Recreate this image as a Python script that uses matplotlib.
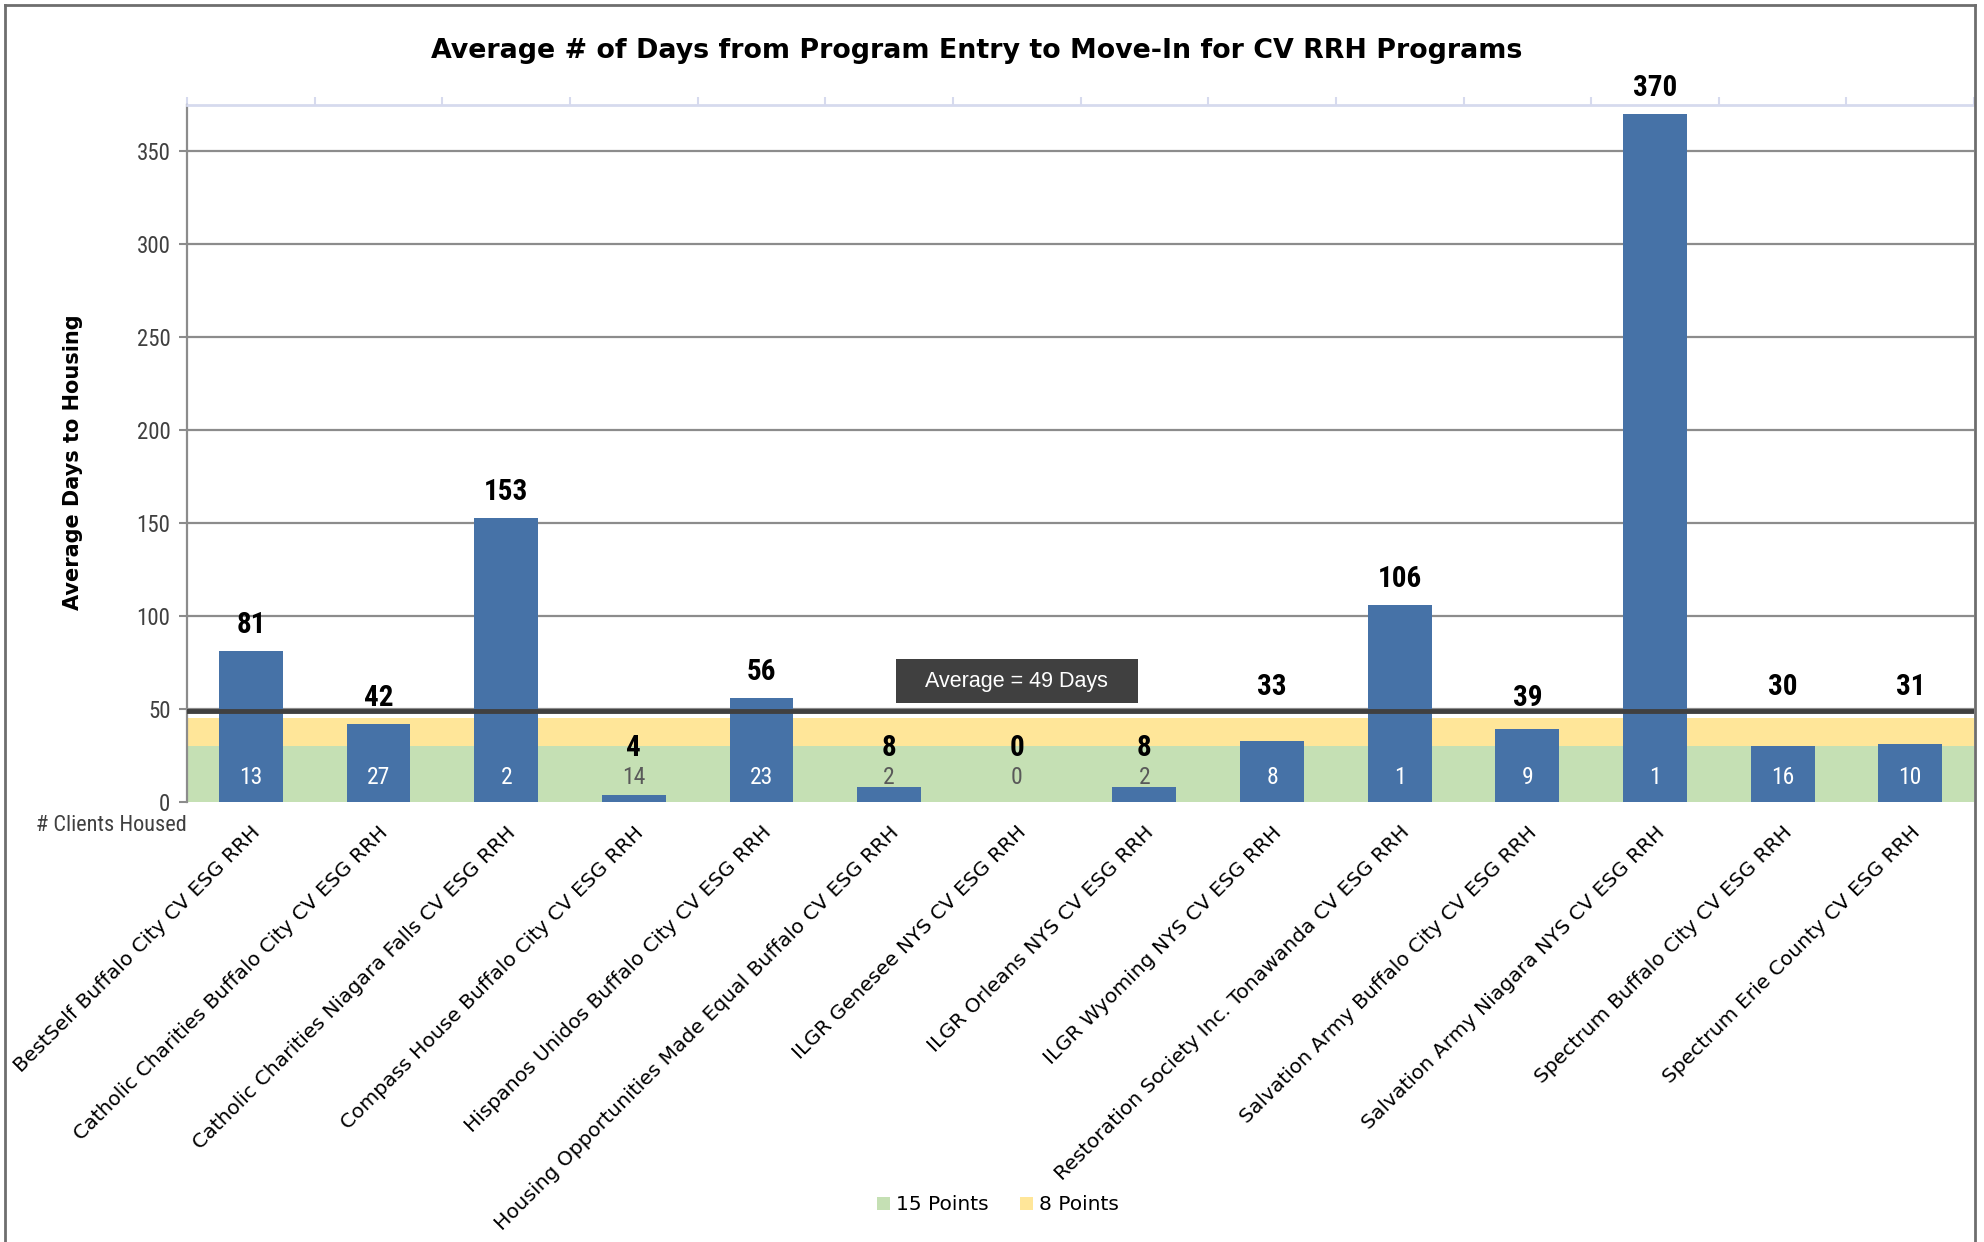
import matplotlib
matplotlib.use('Agg')
import matplotlib.pyplot as plt
from matplotlib import font_manager
from matplotlib.lines import Line2D
from matplotlib.patches import Rectangle

programs = [
    "BestSelf Buffalo City CV ESG RRH",
    "Catholic Charities Buffalo City CV ESG RRH",
    "Catholic Charities Niagara Falls CV ESG RRH",
    "Compass House Buffalo City CV ESG RRH",
    "Hispanos Unidos Buffalo City CV ESG RRH",
    "Housing Opportunities Made Equal Buffalo CV ESG RRH",
    "ILGR Genesee NYS CV ESG RRH",
    "ILGR Orleans NYS CV ESG RRH",
    "ILGR Wyoming NYS CV ESG RRH",
    "Restoration Society Inc. Tonawanda CV ESG RRH",
    "Salvation Army Buffalo City CV ESG RRH",
    "Salvation Army Niagara NYS CV ESG RRH",
    "Spectrum Buffalo City CV ESG RRH",
    "Spectrum Erie County CV ESG RRH",
]
avg_days = [81, 42, 153, 4, 56, 8, 0, 8, 33, 106, 39, 370, 30, 31]
clients_housed = [13, 27, 2, 14, 23, 2, 0, 2, 8, 1, 9, 1, 16, 10]
average_days = 49
band_15_points = (0, 30)
band_8_points = (30, 45)
y_ticks = [0, 50, 100, 150, 200, 250, 300, 350]
legend_labels = ["15 Points", "8 Points"]

available = {f.name for f in font_manager.fontManager.ttflist}
def pick(*names):
    for n in names:
        if n in available:
            return n
    return 'DejaVu Sans'

NARROW = pick('Liberation Sans Narrow', 'Roboto Condensed', 'Liberation Sans')
GEO = pick('DejaVu Sans')
ARIAL = pick('Liberation Sans', 'Roboto')

BAR_C = '#4672a7'
GREEN = '#c5e0b4'
YELLOW = '#ffe699'
DARK = '#404040'
GRID = '#8c8c8c'

fig = plt.figure(figsize=(19.84, 12.42), dpi=100)
ax = fig.add_axes([0.0943, 0.3543, 0.9007, 0.5612])

x = list(range(len(programs)))
ax.set_xlim(-0.5, len(programs) - 0.5)
ax.set_ylim(0, 375)

ax.axhspan(*band_15_points, color=GREEN, zorder=1, lw=0)
ax.axhspan(*band_8_points, color=YELLOW, zorder=1, lw=0)
ax.set_yticks(y_ticks)
ax.yaxis.grid(True, color=GRID, lw=1.6, zorder=0)
ax.set_axisbelow(True)

ax.bar(x, avg_days, width=0.5, color=BAR_C, zorder=3)
ax.axhline(average_days, color=DARK, lw=3.5, zorder=4)

def label_y(v):
    if v < 20:
        return 29
    if v < 38:
        return 62
    if v < 50:
        return 56
    return v + 14

for xi, v, c in zip(x, avg_days, clients_housed):
    ax.text(xi, label_y(v), str(v), ha='center', va='center', fontsize=21,
            fontweight='bold', family=NARROW, color='black', zorder=6, clip_on=False)
    ax.text(xi, 13, str(c), ha='center', va='center', fontsize=17, family=NARROW,
            color='white' if v >= 20 else '#595959', zorder=6)

# average annotation box
bx, bw, bh = 6, 1.9, 24
ax.add_patch(Rectangle((bx - bw / 2, average_days + 4), bw, bh, facecolor=DARK,
                       edgecolor='none', zorder=5))
ax.text(bx, average_days + 4 + bh / 2, f"Average = {average_days} Days", ha='center',
        va='center', color='white', fontsize=15.5, family=ARIAL, zorder=6)

# spines & ticks
for s in ['right', 'bottom']:
    ax.spines[s].set_visible(False)
ax.spines['left'].set_color(GRID)
ax.spines['left'].set_linewidth(1.6)
ax.spines['top'].set_color('#d6daee')
ax.spines['top'].set_linewidth(2)
ax.tick_params(axis='y', direction='out', length=6, width=1.5, color=GRID,
               labelsize=16.5, labelcolor=DARK, pad=6)
for t in ax.get_yticklabels():
    t.set_family(NARROW)

ax.set_xticks(x)
ax.set_xticklabels(programs, rotation=45, ha='right', va='top', rotation_mode='anchor',
                   fontsize=14.6, family=GEO, color='black')
ax.tick_params(axis='x', length=0, pad=15)

top = ax.secondary_xaxis('top')
top.set_xticks([i - 0.5 for i in range(len(programs) + 1)])
top.set_xticklabels([])
top.tick_params(direction='out', length=6, width=1.5, color='#d6daee')
top.spines['top'].set_visible(False)

fig.text(0.4925, 0.959, "Average # of Days from Program Entry to Move-In for CV RRH Programs",
         ha='center', va='center', fontsize=19.4, fontweight='bold', family=GEO)
fig.text(0.0368, 0.628, "Average Days to Housing", rotation=90, ha='center', va='center',
         fontsize=15, fontweight='bold', family=GEO)
fig.text(0.0943, 0.335, "# Clients Housed", ha='right', va='center', fontsize=16,
         family=NARROW, color=DARK)

handles = [Rectangle((0, 0), 1, 1, facecolor=GREEN, edgecolor='none'),
           Rectangle((0, 0), 1, 1, facecolor=YELLOW, edgecolor='none')]
fig.legend(handles, legend_labels, loc='center', bbox_to_anchor=(0.503, 0.030), ncol=2,
           frameon=False, handlelength=0.6, handleheight=0.6,
           handletextpad=0.3, columnspacing=1.6, prop={'family': GEO, 'size': 14.5})

# figure frame
fl, fr, ft = 5 / 1984, 1975 / 1984, 1 - 5 / 1242
for xs, ys in [([fl, fl], [0, ft]), ([fl, fr], [ft, ft]), ([fr, fr], [ft, 0])]:
    fig.add_artist(Line2D(xs, ys, transform=fig.transFigure, color='#6e6e6e', lw=2))

fig.savefig('out.png', dpi=100)
